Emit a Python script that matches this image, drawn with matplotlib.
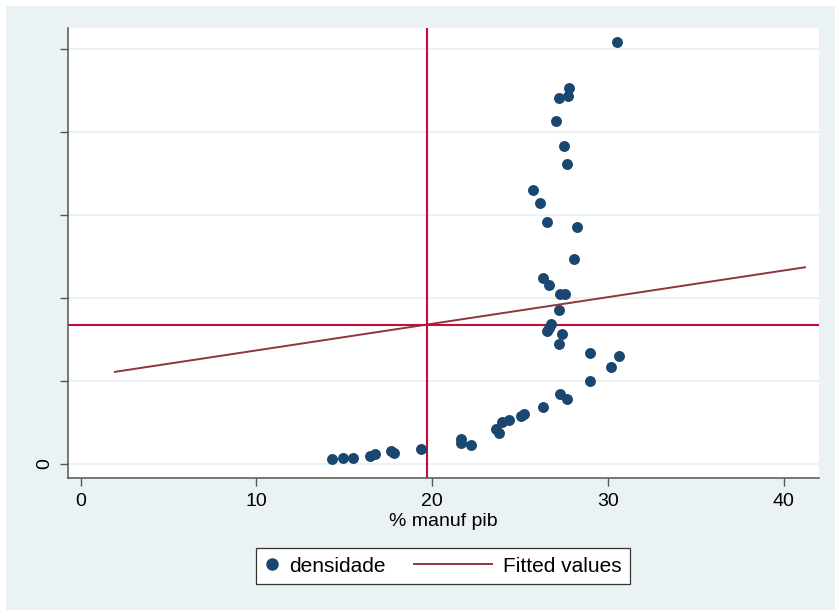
import matplotlib
matplotlib.use('Agg')
import matplotlib.pyplot as plt
from matplotlib.patches import Rectangle
from matplotlib.lines import Line2D
from matplotlib.legend_handler import HandlerBase

# pontos (densidade em unidades de marca do eixo y)
manuf = [30.52, 27.79, 27.74, 27.23, 27.06, 27.51, 27.68, 25.75, 26.15, 26.55,
         28.25, 28.08, 26.32, 26.66, 27.28, 27.57, 27.23, 26.77, 26.66, 26.55,
         27.40, 27.23, 28.98, 30.63, 30.18, 28.98, 27.28, 27.68, 26.32, 25.24,
         25.07, 24.39, 23.94, 23.60, 23.82, 14.29, 14.92, 15.49, 16.45, 16.73,
         17.64, 17.81, 19.34, 21.61, 21.61, 22.23]
densidade = [5.08, 4.53, 4.43, 4.41, 4.13, 3.83, 3.61, 3.30, 3.14, 2.92,
             2.86, 2.47, 2.24, 2.16, 2.05, 2.05, 1.86, 1.69, 1.64, 1.60,
             1.57, 1.45, 1.34, 1.30, 1.17, 1.00, 0.84, 0.78, 0.69, 0.60,
             0.58, 0.53, 0.51, 0.42, 0.37, 0.06, 0.07, 0.07, 0.10, 0.12,
             0.16, 0.13, 0.18, 0.30, 0.25, 0.23]

fit_x = [1.95, 41.2]
fit_y = [1.11, 2.37]

xline = 19.7   # media de manuf
yline = 1.67   # media de densidade

xticks = [0, 10, 20, 30, 40]
yticks = [0, 1, 2, 3, 4, 5]
ylabels = ['0', '', '', '', '', '']

navy = '#1a476f'
maroon = '#90353b'
red = '#c10d3a'
bg = '#eaf2f3'
axc = '#555555'

plt.rcParams['font.family'] = ['Liberation Sans', 'DejaVu Sans']

fig = plt.figure(figsize=(8.35, 6.1), dpi=100)
fig.patch.set_facecolor('white')
fig.patches.append(Rectangle((6/835, 0), 1, 604/610, transform=fig.transFigure,
                             facecolor=bg, edgecolor='none', zorder=-5))

ax = fig.add_axes([68/835, 132/610, 751/835, 450/610])
ax.set_facecolor('white')
ax.set_xlim(-0.72, 42.0)
ax.set_ylim(-0.169, 5.253)

for s in ['top', 'right']:
    ax.spines[s].set_visible(False)
for s in ['left', 'bottom']:
    ax.spines[s].set_color(axc)
    ax.spines[s].set_linewidth(1.1)

ax.set_xticks(xticks)
ax.set_yticks(yticks)
ax.set_yticklabels(ylabels, rotation=90, va='center')
ax.tick_params(axis='both', direction='out', length=5.8, width=1.0, color=axc,
               labelsize=14, labelcolor='black', pad=5)
ax.grid(axis='y', color=bg, linewidth=1.5)
ax.set_axisbelow(True)

ax.scatter(manuf, densidade, s=62, color=navy, zorder=3, linewidths=0, label='densidade')
fl, = ax.plot(fit_x, fit_y, color=maroon, lw=1.4, zorder=2, label='Fitted values')
ax.axvline(xline, color=red, lw=1.5, zorder=2.5)
ax.axhline(yline, color=red, lw=1.5, zorder=2.5)

ax.set_xlabel('% manuf pib', fontsize=14, labelpad=2)


class LongLine(HandlerBase):
    def create_artists(self, legend, orig_handle, xdescent, ydescent, width,
                       height, fontsize, trans):
        y = height / 2 - ydescent
        L = 3.75 * fontsize
        ln = Line2D([width - xdescent - L, width - xdescent], [y, y],
                    color=orig_handle.get_color(), lw=orig_handle.get_linewidth(),
                    transform=trans)
        return [ln]


dot = Line2D([], [], marker='o', ls='none', color=navy, markersize=8)
leg = fig.legend([dot, fl], ['densidade', 'Fitted values'],
                 handler_map={fl: LongLine()},
                 loc='center', bbox_to_anchor=(443/835, 1 - 566/610), ncol=2,
                 fontsize=15, handlelength=0.7, handletextpad=0.5,
                 columnspacing=4.4, fancybox=False, framealpha=1,
                 edgecolor='#333333', borderpad=0.4)
leg.get_frame().set_linewidth(0.9)

fig.savefig('out.png', dpi=100)
